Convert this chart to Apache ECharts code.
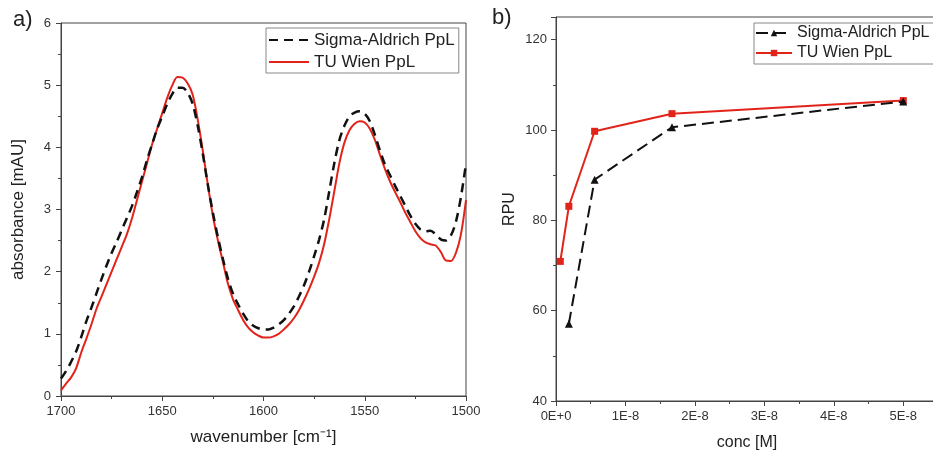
<!DOCTYPE html>
<html>
<head>
<meta charset="utf-8">
<script src="https://cdn.jsdelivr.net/npm/echarts@6/dist/echarts.min.js"></script>
<style>
html,body{margin:0;padding:0;background:#fff;}
#main{width:933px;height:453px;}
</style>
</head>
<body>
<div id="main"></div>
<script>
// ---------- Panel a) IR spectra ----------
var wavenumber = [1700,1697.5,1695,1692.5,1690,1687.5,1685,1682.5,1680,1677.5,1675,1672.5,1670,1667.5,1665,1662.5,1660,1657.5,1655,1652.5,1650,1647.5,1645,1642.5,1640,1637.5,1635,1632.5,1630,1627.5,1625,1622.5,1620,1617.5,1615,1612.5,1610,1607.5,1605,1602.5,1600,1597.5,1595,1592.5,1590,1587.5,1585,1582.5,1580,1577.5,1575,1572.5,1570,1567.5,1565,1562.5,1560,1557.5,1555,1552.5,1550,1547.5,1545,1542.5,1540,1537.5,1535,1532.5,1530,1527.5,1525,1522.5,1520,1517.5,1515,1512.5,1510,1507.5,1505,1502.5,1500];
var absSigma = [0.28,0.4,0.55,0.72,0.95,1.2,1.42,1.65,1.88,2.1,2.3,2.48,2.67,2.86,3.05,3.28,3.52,3.8,4.05,4.3,4.5,4.7,4.86,4.96,4.96,4.88,4.7,4.35,3.9,3.4,2.95,2.55,2.2,1.88,1.64,1.47,1.32,1.2,1.13,1.09,1.07,1.07,1.1,1.15,1.22,1.32,1.44,1.6,1.78,2.0,2.25,2.52,2.85,3.3,3.75,4.12,4.35,4.5,4.56,4.58,4.54,4.42,4.2,3.95,3.72,3.55,3.38,3.22,3.06,2.9,2.77,2.68,2.65,2.66,2.6,2.52,2.5,2.58,2.8,3.2,3.74];
var absTU = [0.09,0.2,0.3,0.45,0.7,0.92,1.15,1.4,1.6,1.8,2.0,2.2,2.4,2.6,2.85,3.15,3.45,3.75,4.05,4.3,4.55,4.8,5.0,5.13,5.12,5.03,4.85,4.45,3.95,3.4,2.9,2.5,2.15,1.8,1.55,1.38,1.22,1.1,1.02,0.97,0.94,0.94,0.96,1.0,1.07,1.15,1.25,1.38,1.54,1.72,1.92,2.15,2.45,2.85,3.3,3.75,4.08,4.28,4.38,4.42,4.4,4.3,4.12,3.88,3.65,3.45,3.28,3.12,2.95,2.8,2.65,2.54,2.47,2.44,2.42,2.32,2.18,2.17,2.3,2.6,3.15];

// ---------- Panel b) RPU vs concentration ----------
var concSigma = [1.85e-9, 5.56e-9, 1.67e-8, 5e-8];
var rpuSigma  = [57.1, 89.0, 100.6, 106.3];
var concTU    = [6.2e-10, 1.85e-9, 5.56e-9, 1.67e-8, 5e-8];
var rpuTU     = [70.9, 83.1, 99.7, 103.6, 106.5];
var concTickLabels = ['0E+0','1E-8','2E-8','3E-8','4E-8','5E-8'];

var seriesNames = ['Sigma-Aldrich PpL','TU Wien PpL'];

function zip(xs, ys){ return xs.map(function(x,i){ return [x, ys[i]]; }); }

var FONT = "'Liberation Sans', Arial, sans-serif";
var AX = '#444';
var RED = '#e2231a';
var BLK = '#111';

var chart = echarts.init(document.getElementById('main'), null, {renderer:'canvas'});

function axisCommon(){
  return {
    axisLine:{show:true, lineStyle:{color:AX, width:1}},
    axisTick:{show:true, inside:false, length:5, lineStyle:{color:AX}},
    minorTick:{show:true, splitNumber:2, length:3, lineStyle:{color:AX}},
    splitLine:{show:false},
    minorSplitLine:{show:false}
  };
}

var option = {
  backgroundColor:'#fff',
  animation:false,
  textStyle:{fontFamily:FONT},
  grid:[
    {left:61, top:23, width:405, height:373, show:true, borderColor:AX, borderWidth:1, containLabel:false, outerBoundsMode:'none'},
    {left:556, top:17, width:382, height:384, show:true, borderColor:AX, borderWidth:1, containLabel:false, outerBoundsMode:'none'}
  ],
  legend:[
    {
      data:seriesNames.slice(),
      orient:'vertical', left:266, top:28,
      padding:[2,4,1,2], itemGap:2, itemWidth:40, itemHeight:10,
      itemStyle:{opacity:0},
      borderColor:'#888', borderWidth:1, backgroundColor:'#fff',
      textStyle:{fontSize:17, color:'#222', fontFamily:FONT, lineHeight:20},
      selectedMode:false
    },
    {
      data:[seriesNames[0]+' ', seriesNames[1]+' '],
      orient:'vertical', left:754, top:23,
      padding:[1,2,2,1], itemGap:2, itemWidth:36, itemHeight:8,
      borderColor:'#888', borderWidth:1, backgroundColor:'#fff',
      textStyle:{fontSize:16, color:'#222', fontFamily:FONT, lineHeight:18},
      selectedMode:false
    }
  ],
  xAxis:[
    Object.assign(axisCommon(), {
      type:'value', gridIndex:0, min:1500, max:1700, interval:50, inverse:true,
      name:'wavenumber [cm\u207B\u00B9]', nameLocation:'middle', nameGap:33,
      nameTextStyle:{fontSize:17, color:'#222', fontFamily:FONT},
      axisLabel:{fontSize:13, color:'#333', margin:9, fontFamily:FONT,
        formatter:function(v){ return String(v); }}
    }),
    Object.assign(axisCommon(), {
      type:'value', gridIndex:1, min:0, max:5.5e-8, interval:1e-8,
      name:'conc [M]', nameLocation:'middle', nameGap:34,
      nameTextStyle:{fontSize:16, color:'#222', fontFamily:FONT},
      axisLabel:{fontSize:13, color:'#333', margin:9, fontFamily:FONT, showMaxLabel:false,
        formatter:function(v){ var i=Math.round(v/1e-8); return concTickLabels[i] !== undefined ? concTickLabels[i] : ''; }}
    })
  ],
  yAxis:[
    Object.assign(axisCommon(), {
      type:'value', gridIndex:0, min:0, max:6, interval:1,
      name:'absorbance [mAU]', nameLocation:'middle', nameGap:34,
      nameTextStyle:{fontSize:17, color:'#222', fontFamily:FONT},
      axisLabel:{fontSize:13, color:'#333', margin:10, fontFamily:FONT}
    }),
    Object.assign(axisCommon(), {
      type:'value', gridIndex:1, min:40, max:125, interval:20,
      name:'RPU', nameLocation:'middle', nameGap:38,
      nameTextStyle:{fontSize:16, color:'#222', fontFamily:FONT},
      axisLabel:{fontSize:13, color:'#333', margin:9, fontFamily:FONT, showMaxLabel:false}
    })
  ],
  series:[
    {
      name:seriesNames[1], type:'line', xAxisIndex:0, yAxisIndex:0,
      data:zip(wavenumber, absTU), smooth:0.3, showSymbol:false, symbol:'none',
      lineStyle:{color:RED, width:2}, itemStyle:{color:RED}, z:2
    },
    {
      name:seriesNames[0], type:'line', xAxisIndex:0, yAxisIndex:0,
      data:zip(wavenumber, absSigma), smooth:0.3, showSymbol:false, symbol:'none',
      lineStyle:{color:BLK, width:2.5, type:[9,6]}, itemStyle:{color:BLK}, z:3
    },
    {
      name:seriesNames[1]+' ', type:'line', xAxisIndex:1, yAxisIndex:1,
      data:zip(concTU, rpuTU), symbol:'rect', symbolSize:7,
      lineStyle:{color:RED, width:2}, itemStyle:{color:RED}, z:2
    },
    {
      name:seriesNames[0]+' ', type:'line', xAxisIndex:1, yAxisIndex:1,
      data:zip(concSigma, rpuSigma), symbol:'triangle', symbolSize:8,
      lineStyle:{color:BLK, width:2, type:[12,6]}, itemStyle:{color:BLK}, z:3
    }
  ],
  graphic:[
    {type:'text', left:13, top:9, style:{text:'a)', fontSize:22, fill:'#222', fontFamily:FONT}},
    {type:'text', left:492, top:7, style:{text:'b)', fontSize:22, fill:'#222', fontFamily:FONT}}
  ]
};
chart.setOption(option);
</script>
</body>
</html>
